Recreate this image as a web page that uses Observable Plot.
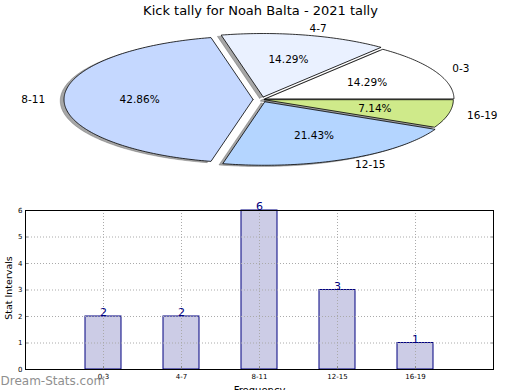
<!DOCTYPE html>
<html><head><meta charset="utf-8">
<script src="https://cdn.jsdelivr.net/npm/d3@7"></script>
<script src="https://cdn.jsdelivr.net/npm/@observablehq/plot@0.6"></script>
<style>
body{margin:0;background:#fff;font-family:"DejaVu Sans",sans-serif;}
#wrap{position:relative;width:520px;height:390px;overflow:hidden;background:#fff;}
#pie{position:absolute;left:0;top:0;}
#bar{position:absolute;left:0;top:200px;}
svg{overflow:visible;}
</style></head><body><div id="wrap"><div id="pie"></div><div id="bar"></div></div>
<script>
const title = "Kick tally for Noah Balta - 2021 tally";
const categories = ["0-3", "4-7", "8-11", "12-15", "16-19"];
const counts = [2, 2, 6, 3, 1];
const sliceColors = ["#ffffff", "#eaf1ff", "#c5d8ff", "#b4d5ff", "#cfea8a"];
const explode = [0.02, 0.04, 0.045, 0.04, 0.015];
const yTicks = [0, 1, 2, 3, 4, 5, 6];
const xLabel = "Frequency";
const yLabel = "Stat Intervals";
const watermark = "Dream-Stats.com";

const total = d3.sum(counts);
let acc = 0;
const slices = categories.map((c, i) => {
  const a0 = acc / total * 2 * Math.PI; acc += counts[i];
  const a1 = acc / total * 2 * Math.PI;
  const mid = (a0 + a1) / 2;
  const ox = explode[i] * Math.cos(mid), oy = explode[i] * Math.sin(mid);
  const pts = [{u: ox, v: oy}];
  const n = Math.max(4, Math.ceil((a1 - a0) / (Math.PI / 180)));
  for (let k = 0; k <= n; k++) {
    const t = a0 + (a1 - a0) * k / n;
    pts.push({u: ox + Math.cos(t), v: oy + Math.sin(t)});
  }
  pts.push({u: ox, v: oy});
  return {c, i, mid, ox, oy, pts, pct: (counts[i] / total * 100).toFixed(2) + "%"};
});

const font = "DejaVu Sans";
const pie = Plot.plot({
  width: 520, height: 200, margin: 0,
  x: {domain: [-1.381, 1.370], range: [0, 520], axis: null},
  y: {domain: [-1.591, 1.559], range: [200, 0], axis: null},
  style: {fontFamily: font, background: "transparent", color: "#000"},
  marks: [
    ...slices.map(s => Plot.line(s.pts, {x: d => d.u - 0.02, y: d => d.v - 0.02, fill: "#4d4d4d", fillOpacity: 0.5, stroke: "#4d4d4d", strokeOpacity: 0.4, strokeWidth: 0.8})),
    ...slices.map(s => Plot.line(s.pts, {x: "u", y: "v", fill: sliceColors[s.i], stroke: "#000", strokeWidth: 0.8})),
    Plot.text(slices, {filter: s => Math.cos(s.mid) >= 0, x: s => s.ox + 1.1 * Math.cos(s.mid), y: s => s.oy + 1.1 * Math.sin(s.mid), text: "c", textAnchor: "start", fontSize: 10.5, fill: "#000"}),
    Plot.text(slices, {filter: s => Math.cos(s.mid) < 0, x: s => s.ox + 1.1 * Math.cos(s.mid), y: s => s.oy + 1.1 * Math.sin(s.mid), text: "c", textAnchor: "end", fontSize: 10.5, fill: "#000"}),
    Plot.text(slices, {x: s => s.ox + 0.6 * Math.cos(s.mid), y: s => s.oy + 0.6 * Math.sin(s.mid), text: "pct", textAnchor: "middle", fontSize: 10.5, fill: "#000"}),
    Plot.text([title], {frameAnchor: "top", lineAnchor: "top", dy: 5, fontSize: 13, fill: "#000"})
  ]
});
document.getElementById("pie").append(pie);

const barData = categories.map((c, i) => ({c, v: counts[i]}));
const bar = Plot.plot({
  width: 520, height: 190, marginLeft: 25, marginRight: 27, marginTop: 10, marginBottom: 21,
  x: {type: "band", domain: categories, paddingInner: 0.5385, paddingOuter: 0.769, axis: null},
  y: {domain: [0, 6], axis: null},
  style: {fontFamily: font, background: "transparent", color: "#000"},
  marks: [
    Plot.barY(barData, {x: "c", y: "v", fill: "#ccccE6", stroke: "#000080", strokeWidth: 1}),
    Plot.gridY(yTicks, {stroke: "#aaaaaa", strokeOpacity: 1, strokeDasharray: "1,2"}),
    Plot.gridX(categories, {stroke: "#aaaaaa", strokeOpacity: 1, strokeDasharray: "1,2"}),
    Plot.axisY(yTicks, {anchor: "left", label: null, tickSize: 3, dx: 3, tickFormat: () => "", stroke: "#888"}),
    Plot.axisY(yTicks, {anchor: "right", label: null, tickSize: 3, dx: -3, tickFormat: () => "", stroke: "#888"}),
    Plot.axisX(categories, {anchor: "bottom", label: null, tickSize: 3, dy: -3, tickFormat: () => "", stroke: "#888"}),
    Plot.frame({stroke: "#000", strokeWidth: 1}),
    Plot.axisY(yTicks, {anchor: "left", label: null, tickSize: 0, tickPadding: 3, fontSize: 7, fill: "#000", tickFormat: d => String(d)}),
    Plot.axisX(categories, {anchor: "bottom", label: null, tickSize: 0, tickPadding: 5, fontSize: 7, fill: "#000"}),
    Plot.text(barData, {x: "c", y: "v", text: d => String(d.v), lineAnchor: "middle", dy: -3.6, fontSize: 11, fill: "#000080"}),
    Plot.text([yLabel], {frameAnchor: "left", textAnchor: "middle", rotate: -90, dx: -17, dy: -2, fontSize: 9.5, fill: "#000"}),
    Plot.text([xLabel], {frameAnchor: "bottom", lineAnchor: "top", dy: 17, fontSize: 10, fill: "#000"}),
    Plot.text([watermark], {frameAnchor: "bottom-left", textAnchor: "start", lineAnchor: "middle", dx: -25, dy: 11.5, fontSize: 12, fill: "#8f8f8f"})
  ]
});
document.getElementById("bar").append(bar);
</script></body></html>
